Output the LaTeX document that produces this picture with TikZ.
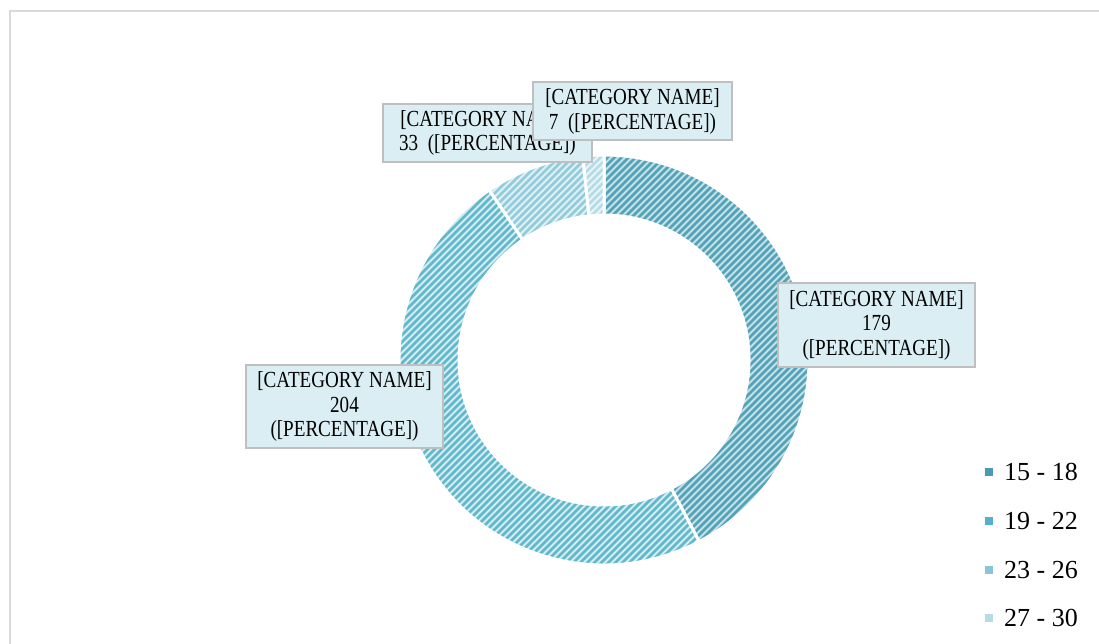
\documentclass[tikz,border=0pt]{standalone}
\usepackage{fontspec}
\setmainfont{Liberation Serif}
\newfontfamily\labelfont[FakeStretch=0.83]{Liberation Serif}
\usetikzlibrary{calc}

\definecolor{frameGray}{HTML}{D9D9D9}
\definecolor{boxFill}{HTML}{DAEEF3}
\definecolor{boxLine}{HTML}{BFBFBF}
% slice colours: background and hatch stroke
\definecolor{sAbg}{HTML}{C4E2EA}\definecolor{sAfg}{HTML}{54A2B5}
\definecolor{sBbg}{HTML}{D4EDF3}\definecolor{sBfg}{HTML}{62B8CB}
\definecolor{sCbg}{HTML}{DFF1F6}\definecolor{sCfg}{HTML}{92CCDA}
\definecolor{sDbg}{HTML}{E7F4F8}\definecolor{sDfg}{HTML}{B4DCE6}
% legend keys
\definecolor{kA}{HTML}{4C9AAE}
\definecolor{kB}{HTML}{55B1C6}
\definecolor{kC}{HTML}{86C6D6}
\definecolor{kD}{HTML}{B6DCE6}

\def\Ro{205}
\def\Ri{145}

% one hatched ring slice between two angles (clockwise from #1 to #2)
\newcommand\donutslice[4]{%
  \begin{scope}
    \clip ([shift={(#1:\Ro)}]c) arc[start angle=#1, end angle=#2, radius=\Ro]
      -- ([shift={(#2:\Ri)}]c) arc[start angle=#2, end angle=#1, radius=\Ri] -- cycle;
    \fill[#3] (380,50) rectangle (830,520);
    \foreach \s in {520,527,...,1400}
      \draw[#4, line width=2.8] (\s-644,0) -- (\s,644);
  \end{scope}
  \draw[white, line width=3, line join=miter]
    ([shift={(#1:\Ro)}]c) arc[start angle=#1, end angle=#2, radius=\Ro]
    -- ([shift={(#2:\Ri)}]c) arc[start angle=#2, end angle=#1, radius=\Ri] -- cycle;
}

\tikzset{
  datalabel/.style={draw=boxLine, line width=2, fill=boxFill, align=center,
    inner sep=0pt, font=\labelfont\fontsize{23}{24.5}\selectfont},
  legendkey/.style={fill=#1, minimum size=8, inner sep=0pt},
  legendtext/.style={anchor=west, inner sep=0pt, font=\fontsize{26}{28}\selectfont},
}

\begin{document}
\begin{tikzpicture}[x=1pt,y=1pt]
  \useasboundingbox (0,0) rectangle (1099,644);
  \fill[white] (0,0) rectangle (1099,644);

  % chart area frame
  \draw[frameGray, line width=1.5] (10,-5) -- (10,633) -- (1110,633);

  \coordinate (c) at (604,284);

  % ring: 179, 204, 33, 7 of 423
  \donutslice{90}{-62.34}{sAbg}{sAfg}
  \donutslice{-62.34}{-235.96}{sBbg}{sBfg}
  \donutslice{-235.96}{-264.05}{sCbg}{sCfg}
  \donutslice{-264.05}{-270}{sDbg}{sDfg}

  % data labels
  \node[datalabel, minimum width=197, minimum height=84] (lblA) at (876.5,319)
    {[CATEGORY NAME]\\179\\([PERCENTAGE])};
  \node[datalabel, minimum width=197, minimum height=83] (lblB) at (344.5,237.5)
    {[CATEGORY NAME]\\204\\([PERCENTAGE])};
  \node[datalabel, minimum width=209, minimum height=58] (lblC) at (487.5,511)
    {[CATEGORY NAME]\\33\ \ ([PERCENTAGE])};
  \node[datalabel, minimum width=199, minimum height=58] (lblD) at (632.5,532.5)
    {[CATEGORY NAME]\\7\ \ ([PERCENTAGE])};

  % legend
  \node[legendkey=kA] (keyA) at (989,172) {};
  \node[legendkey=kB] (keyB) at (989,123) {};
  \node[legendkey=kC] (keyC) at (989,74) {};
  \node[legendkey=kD] (keyD) at (989,26) {};
  \node[legendtext] (txtA) at (1004,172) {15 - 18};
  \node[legendtext] (txtB) at (1004,123) {19 - 22};
  \node[legendtext] (txtC) at (1004,74) {23 - 26};
  \node[legendtext] (txtD) at (1004,26) {27 - 30};
\end{tikzpicture}
\end{document}
